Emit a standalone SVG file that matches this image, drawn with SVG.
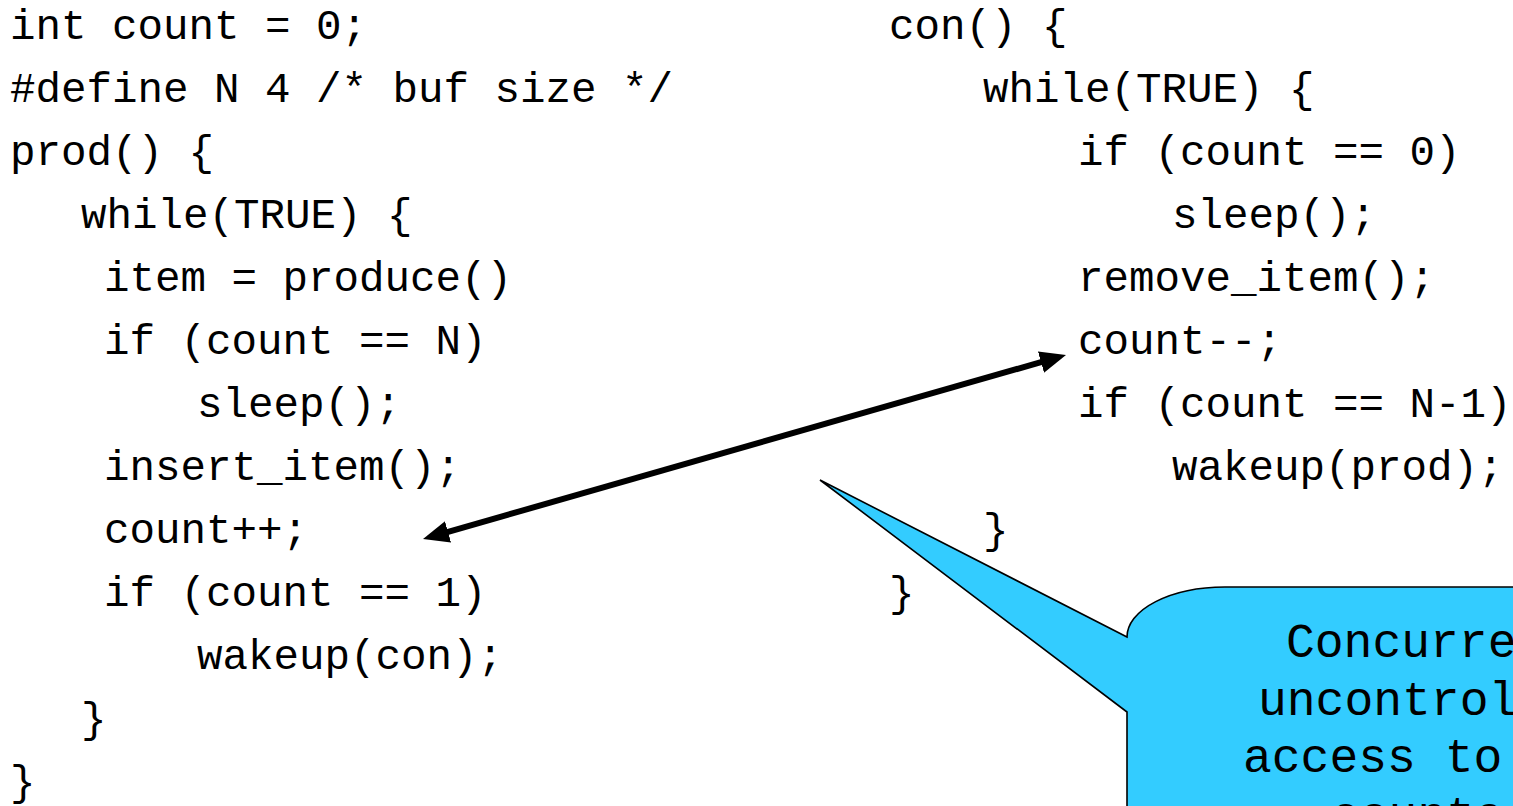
<svg xmlns="http://www.w3.org/2000/svg" width="1513" height="806" viewBox="0 0 1513 806">
  <style>
    .code { font-family: "Liberation Mono", "DejaVu Sans Mono", monospace; font-size: 42.5px; fill: #000; }
    .note { font-family: "Liberation Mono", "DejaVu Sans Mono", monospace; font-size: 48px; fill: #000; }
    .link { stroke: #000; stroke-width: 6; fill: none; }
    .bubble { fill: #33CCFF; stroke: #000; stroke-width: 1.6; stroke-linejoin: miter; }
  </style>
  <defs>
    <marker id="head" viewBox="0 0 26 22" refX="18" refY="11" markerWidth="26" markerHeight="22" orient="auto-start-reverse" markerUnits="userSpaceOnUse">
      <path d="M0,0 L26,11 L0,22 Z" fill="#000"/>
    </marker>
  </defs>
  <rect width="1513" height="806" fill="#fff"/>

  <!-- producer -->
  <g id="producer">
    <text class="code" x="10" y="39">int count = 0;</text>
    <text class="code" x="10" y="102">#define N 4 /* buf size */</text>
    <text class="code" x="10" y="165">prod() {</text>
    <text class="code" x="81" y="228">while(TRUE) {</text>
    <text class="code" x="104" y="291">item = produce()</text>
    <text class="code" x="104" y="354">if (count == N)</text>
    <text class="code" x="197" y="417">sleep();</text>
    <text class="code" x="104" y="480">insert_item();</text>
    <text class="code" x="104" y="543">count++;</text>
    <text class="code" x="104" y="606">if (count == 1)</text>
    <text class="code" x="197" y="669">wakeup(con);</text>
    <text class="code" x="81" y="732">}</text>
    <text class="code" x="10" y="795">}</text>
  </g>

  <!-- consumer -->
  <g id="consumer">
    <text class="code" x="889" y="39">con() {</text>
    <text class="code" x="983" y="102">while(TRUE) {</text>
    <text class="code" x="1078" y="165">if (count == 0)</text>
    <text class="code" x="1172" y="228">sleep();</text>
    <text class="code" x="1078" y="291">remove_item();</text>
    <text class="code" x="1078" y="354">count--;</text>
    <text class="code" x="1078" y="417">if (count == N-1)</text>
    <text class="code" x="1172" y="480">wakeup(prod);</text>
    <text class="code" x="983" y="543">}</text>
    <text class="code" x="889" y="606">}</text>
  </g>

  <!-- connectors -->
  <g id="connectors">
    <line class="link" x1="430.7" y1="536.8" x2="1058.3" y2="357.2" marker-start="url(#head)" marker-end="url(#head)"/>
  </g>

  <!-- callout -->
  <g id="callout">
    <path class="bubble" d="M1127,637 L820,480 L1127,712 L1127,830 L1530,830 L1530,587 L1225,587 A98,50 0 0 0 1127,637 Z"/>
    <text class="note" x="1286" y="657">Concurre</text>
    <text class="note" x="1258" y="715">uncontrol</text>
    <text class="note" x="1243" y="772">access to</text>
    <text class="note" x="1331" y="830">counte</text>
  </g>
</svg>
